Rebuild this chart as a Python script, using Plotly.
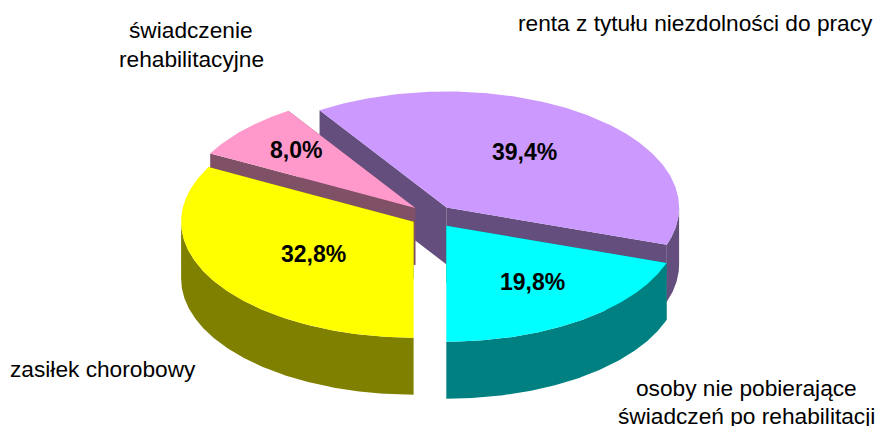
import math
import plotly.graph_objects as go

# Data
categories = ["renta z tytułu niezdolności do pracy",
              "osoby nie pobierające świadczeń po rehabilitacji",
              "zasiłek chorobowy",
              "świadczenie rehabilitacyjne"]
values = [39.4, 19.8, 32.8, 8.0]
top_colors = ["#CC99FF", "#00FFFF", "#FFFF00", "#FF99CC"]
side_colors = ["#634E7E", "#008080", "#808000", "#805066"]
tips = [(446.6, 207.5), (446.3, 225.7), (413.6, 221.7), (415.3, 208.0)]
pct_pos = [(524, 152), (532, 282), (313, 254), (296, 150)]
name_lines = [
    [("renta z tytułu niezdolności do pracy", 695, 23)],
    [("osoby nie pobierające", 746, 388), ("świadczeń po rehabilitacji", 746, 416)],
    [("zasiłek chorobowy", 103, 369)],
    [("świadczenie", 191, 30), ("rehabilitacyjne", 191, 59)],
]

RX, RY, DEPTH = 232.5, 116.0, 57.0
END_OF_CYAN = 180.0  # clockwise degrees from the top

total = sum(values)
sweeps = [v / total * 360 for v in values]
cyan_start = END_OF_CYAN - sweeps[1]
starts = [cyan_start - sweeps[0], cyan_start, END_OF_CYAN, END_OF_CYAN + sweeps[2]]


def pt(tip, deg, dy=0.0):
    a = math.radians(deg)
    return tip[0] + RX * math.sin(a), tip[1] - RY * math.cos(a) + dy


def arc(tip, a0, a1, dy=0.0):
    n = max(2, int(abs(a1 - a0) * 2))
    return [pt(tip, a0 + (a1 - a0) * i / n, dy) for i in range(n + 1)]


fig = go.Figure()


def poly(points, color):
    fig.add_trace(go.Scatter(
        x=[p[0] for p in points] + [points[0][0]],
        y=[p[1] for p in points] + [points[0][1]],
        mode="lines", fill="toself", fillcolor=color,
        line=dict(width=0, color=color), hoverinfo="skip", showlegend=False))


for i in [0, 3, 2, 1]:  # back to front
    tip, a0, a1 = tips[i], starts[i], starts[i] + sweeps[i]
    side, top = side_colors[i], top_colors[i]
    # cut faces
    for ang in (a0, a1):
        e = pt(tip, ang)
        poly([tip, e, (e[0], e[1] + DEPTH), (tip[0], tip[1] + DEPTH)], side)
    # outer wall, front half only (90..270 degrees)
    for shift in (0, -360):
        lo, hi = max(a0 + shift, 90), min(a1 + shift, 270)
        if lo < hi:
            poly(arc(tip, lo, hi) + arc(tip, hi, lo, DEPTH), side)
    # top face
    poly([tip] + arc(tip, a0, a1), top)

for i, v in enumerate(values):
    fig.add_annotation(x=pct_pos[i][0], y=pct_pos[i][1],
                       text=f"{v:.1f}%".replace(".", ","), showarrow=False,
                       font=dict(family="Liberation Sans", size=23, color="black", weight="bold"))
    for text, x, y in name_lines[i]:
        fig.add_annotation(x=x, y=y, text=text, showarrow=False,
                           font=dict(family="Liberation Sans", size=22.7, color="black"))

fig.update_layout(
    width=877, height=426, margin=dict(l=0, r=0, t=0, b=0),
    paper_bgcolor="white", plot_bgcolor="white", showlegend=False,
    xaxis=dict(range=[0, 877], visible=False, fixedrange=True),
    yaxis=dict(range=[426, 0], visible=False, fixedrange=True),
)
fig.write_html("out.html", config={"displayModeBar": False},
               post_script="document.body.style.margin='0';document.body.style.overflow='hidden';")
